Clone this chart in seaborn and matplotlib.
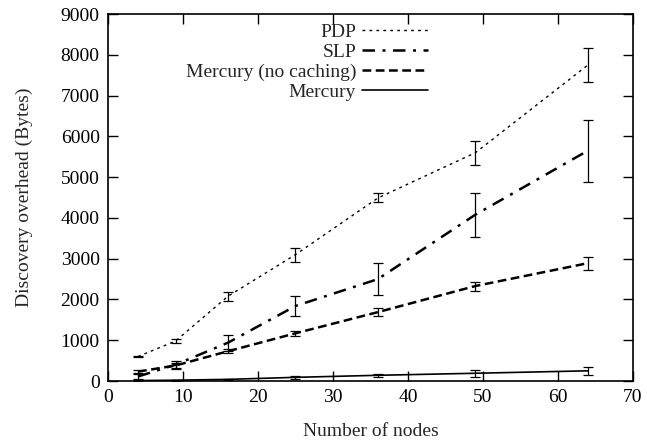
import numpy as np
import pandas as pd
import matplotlib
matplotlib.use('Agg')
import matplotlib.pyplot as plt
import seaborn as sns

# Dados
nodes = [4, 9, 16, 25, 36, 49, 64]

pdp = [600, 980, 2080, 3100, 4490, 5600, 7750]
pdp_err = [20, 40, 110, 170, 110, 300, 420]

slp = [110, 400, 940, 1840, 2500, 4080, 5650]
slp_err = [60, 100, 200, 245, 385, 540, 760]

merc_nc = [230, 380, 730, 1170, 1690, 2330, 2890]
merc_nc_err = [40, 60, 50, 60, 90, 110, 160]

merc = [10, 20, 40, 90, 140, 190, 250]
merc_err = [10, 15, 20, 30, 40, 80, 100]

series = [
    ('PDP', pdp, pdp_err, (0, (2, 3)), 1.0),
    ('SLP', slp, slp_err, (0, (5, 3, 1.2, 3)), 1.8),
    ('Mercury (no caching)', merc_nc, merc_nc_err, (0, (3.5, 1.8)), 1.8),
    ('Mercury', merc, merc_err, '-', 1.2),
]

sns.set_style('ticks')
plt.rcParams['font.family'] = ['Liberation Serif', 'DejaVu Serif']

fig = plt.figure(figsize=(6.47, 4.42), dpi=100)
ax = fig.add_axes([0.167, 0.138, 0.811, 0.830])

for nome, vals, err, ls, lw in series:
    df = pd.DataFrame({'x': nodes, 'y': vals})
    sns.lineplot(data=df, x='x', y='y', ax=ax, color='black', linestyle=ls,
                 linewidth=lw, label=nome)
    ax.errorbar(nodes, vals, yerr=err, fmt='none', ecolor='black',
                elinewidth=0.9, capsize=3.6, capthick=0.9)

ax.set_xlim(0, 70)
ax.set_ylim(0, 9000)
ax.set_xticks(range(0, 71, 10))
ax.set_yticks(range(0, 9001, 1000))
ax.set_xlabel('Number of nodes', fontsize=14, labelpad=12)
ax.set_ylabel('Discovery overhead (Bytes)', fontsize=14, labelpad=20)
ax.tick_params(direction='in', length=7, width=1, top=True, right=True,
               labelsize=14, colors='black', pad=6)
for s in ax.spines.values():
    s.set_visible(True)
    s.set_linewidth(1.2)
    s.set_color('black')

leg = ax.legend(loc='upper right', bbox_to_anchor=(0.61, 0.975),
                markerfirst=False, frameon=False, handlelength=3.4,
                fontsize=14, labelspacing=0.12, handletextpad=0.3,
                borderpad=0, borderaxespad=0)

fig.savefig('out.png', dpi=100)
